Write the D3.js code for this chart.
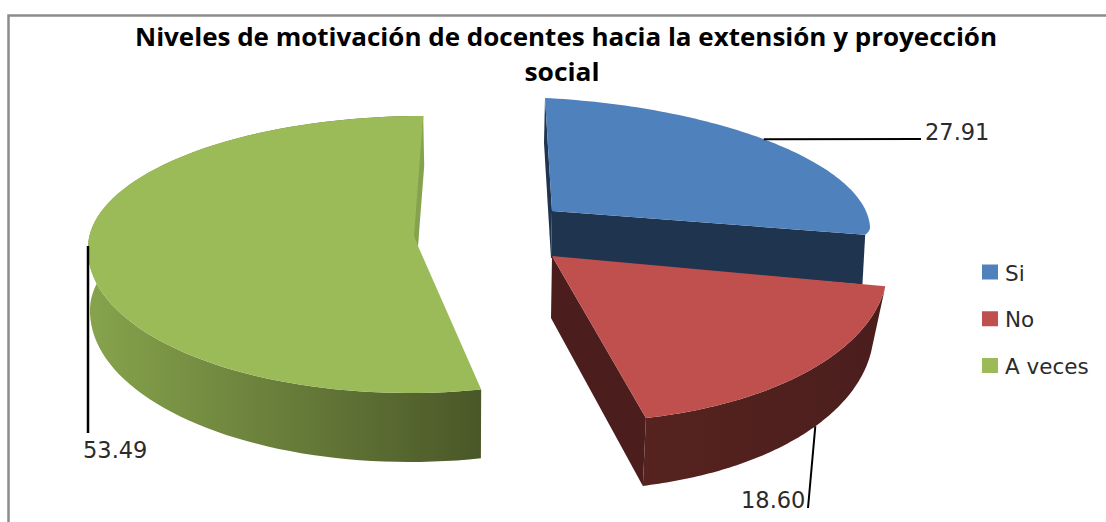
<!DOCTYPE html>
<html>
<head>
<meta charset="utf-8">
<script src="https://cdn.jsdelivr.net/npm/d3@7"></script>
<style>
    html, body { margin: 0; padding: 0; background: #fff; }
    svg { display: block; }
    text { font-family: "DejaVu Sans", sans-serif; }
    .title { font-family: "Open Sans", sans-serif; }
</style>
</head>
<body>
<div id="chart"></div>
<script>
var titleLines = ["Niveles de motivación de docentes hacia la extensión y proyección", "social"];
var categories = ["Si", "No", "A veces"];
var values = [27.91, 18.60, 53.49];
var valueLabels = ["27.91", "18.60", "53.49"];

var width = 1106, height = 522;

var topColors = ["#4f81bd", "#c0504d", "#9bbb59"];
var sideColors = [["#1f344e", "#1f344e"], ["#56231f", "#4b1e1d"], ["#86a34c", "#4a5728"]];

// the picture is a perspective view, so every exploded slice gets its own ellipses
var layout = [
    {
        top: {cx: 552, cy: 211, rx: 318, ryUp: 113, ryDown: 45, skew: 0.062, tilt: 0.05},
        bottom: {cx: 551, cy: 258, rx: 316, ryUp: 113, ryDown: 60, skew: 0.062, tilt: 0.05},
        leaderAt: 43, leaderFace: "top", leaderEnd: [921, 139], leaderWidth: 2,
        labelAt: [925, 140], endWall: true, startWall: true, noRim: true
    },
    {
        top: {cx: 552, cy: 256, rx: 335, ryUp: 166, ryDown: 166, skew: 0.13},
        bottom: {cx: 551, cy: 318, rx: 322, ryUp: 172, ryDown: 172, skew: 0.13},
        leaderAt: 129, leaderFace: "bottom", leaderEnd: [808, 508], leaderWidth: 2,
        labelAt: [741, 508], endWall: true
    },
    {
        top: {cx: 418, cy: 246, rx: 330, ryUp: 130, ryDown: 147, skew: -0.06, skewUp: -0.04},
        bottom: {cx: 416, cy: 308, rx: 326, ryUp: 130, ryDown: 154, skew: -0.04},
        leaderAt: 270, leaderFace: "top", leaderEnd: [88, 433], leaderWidth: 2.5,
        labelAt: [83, 458], sliver: true
    }
];

var svg = d3.select("#chart").append("svg")
    .attr("width", width)
    .attr("height", height);

var defs = svg.append("defs");

// chart frame, only the top and left edges are inside the crop
svg.append("path")
    .attr("d", "M1106,15.5H8.5V522")
    .attr("fill", "none")
    .attr("stroke", "#8c8c8c")
    .attr("stroke-width", 2.5);

var pie = d3.pie().sort(null).value(function(d) { return d; });
var arcs = pie(values);

function project(e, a) {
    var up = -Math.cos(a),
        side = Math.sin(a),
        ry = up < 0 ? e.ryUp : e.ryDown,
        skew = (up < 0 && e.skewUp !== undefined) ? e.skewUp : e.skew;
    return [
        e.cx + e.rx * side + skew * ry * up,
        e.cy + ry * up + (e.tilt || 0) * e.rx * side
    ];
}

function sample(e, a0, a1) {
    var n = 90;
    return d3.range(n + 1).map(function(i) {
        return project(e, a0 + (a1 - a0) * i / n);
    });
}

var line = d3.line();
var order = [2, 0, 1];

order.forEach(function(i) {
    var d = arcs[i],
        s = layout[i],
        g = svg.append("g");

    var topArc = sample(s.top, d.startAngle, d.endAngle),
        bottomArc = sample(s.bottom, d.startAngle, d.endAngle),
        apexTop = [s.top.cx, s.top.cy],
        apexBottom = [s.bottom.cx, s.bottom.cy];

    // gradient along the outer side
    var xs = bottomArc.map(function(p) { return p[0]; });
    defs.append("linearGradient")
        .attr("id", "side" + i)
        .attr("gradientUnits", "userSpaceOnUse")
        .attr("x1", d3.min(xs)).attr("x2", d3.max(xs))
        .attr("y1", 0).attr("y2", 0)
        .selectAll("stop")
        .data(sideColors[i])
        .enter().append("stop")
        .attr("offset", function(c, k) { return k; })
        .attr("stop-color", function(c) { return c; });

    if (s.endWall) {
        g.append("path")
            .attr("d", line([apexTop, topArc[topArc.length - 1], bottomArc[bottomArc.length - 1], apexBottom]) + "Z")
            .attr("fill", sideColors[i][1]);
    }
    if (s.startWall) {
        g.append("path")
            .attr("d", line([apexTop, topArc[0], [topArc[0][0] - 1, topArc[0][1] + 45], apexBottom]) + "Z")
            .attr("fill", sideColors[i][0]);
    }

    // outer rim
    if (!s.noRim) {
        g.append("path")
            .attr("d", line(topArc.concat(bottomArc.slice().reverse())) + "Z")
            .attr("fill", "url(#side" + i + ")");
    }

    // top face
    g.append("path")
        .attr("d", line([apexTop].concat(topArc)) + "Z")
        .attr("fill", topColors[i]);

    if (s.sliver) {
        var rim = topArc[topArc.length - 1];
        g.append("path")
            .attr("d", line([rim, [rim[0] + 1, rim[1] + 50], apexTop, [apexTop[0] - 4, apexTop[1] - 10]]) + "Z")
            .attr("fill", "#85a24f");
    }
});

// leader lines and value labels
arcs.forEach(function(d, i) {
    var s = layout[i],
        from = project(s[s.leaderFace], s.leaderAt * Math.PI / 180);
    svg.append("path")
        .attr("d", line([from, s.leaderEnd]))
        .attr("stroke", "#000")
        .attr("stroke-width", s.leaderWidth)
        .attr("fill", "none");
    svg.append("text")
        .attr("x", s.labelAt[0])
        .attr("y", s.labelAt[1])
        .attr("font-size", 22.5)
        .attr("fill", "#2b2b2b")
        .text(valueLabels[i]);
});

// title
svg.selectAll(".title")
    .data(titleLines)
    .enter().append("text")
    .attr("class", "title")
    .attr("x", function(d, i) { return i ? 562 : 566; })
    .attr("y", function(d, i) { return 46 + i * 35; })
    .attr("text-anchor", "middle")
    .attr("font-size", 25.5)
    .attr("font-weight", 700)
    .attr("fill", "#000")
    .attr("textLength", function(d, i) { return i ? 75 : 862; })
    .attr("lengthAdjust", "spacingAndGlyphs")
    .text(function(d) { return d; });

// legend
var legendY = d3.scalePoint().domain(categories).range([272, 365.5]);

var legend = svg.selectAll(".legend")
    .data(categories)
    .enter().append("g")
    .attr("class", "legend")
    .attr("transform", function(d) { return "translate(982," + legendY(d) + ")"; });

legend.append("rect")
    .attr("y", -7.5)
    .attr("width", 16)
    .attr("height", 15)
    .attr("fill", function(d, i) { return topColors[i]; });

legend.append("text")
    .attr("x", 23)
    .attr("y", 8.5)
    .attr("font-size", 21.5)
    .attr("fill", "#2b2b2b")
    .text(function(d) { return d; });
</script>
</body>
</html>
